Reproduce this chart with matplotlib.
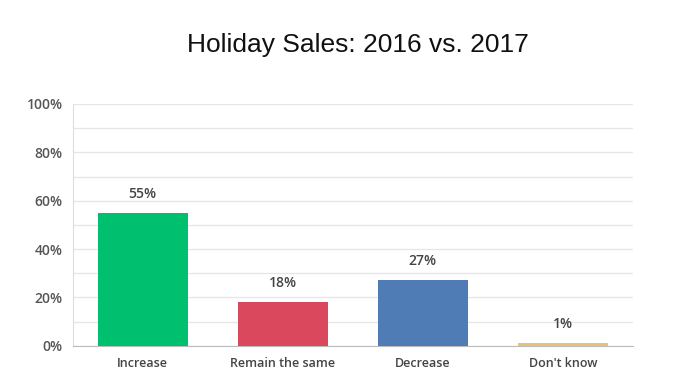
import matplotlib.pyplot as plt
import numpy as np

# data
categories = ['Increase', 'Remain the same', 'Decrease', "Don't know"]
values = [55, 18, 27, 1]
colors = ['#00BF6F', '#D9485C', '#4F7CB5', '#E3C27A']
yticks = [0, 20, 40, 60, 80, 100]

plt.rcParams['font.family'] = ['Open Sans', 'DejaVu Sans']

fig = plt.figure(figsize=(6.75, 3.88), dpi=100)
ax = fig.add_axes([0.1077, 0.109, 0.830, 0.623])

x = np.arange(len(categories))
bars = ax.bar(x, values, width=0.64, color=colors, zorder=3)

ax.set_xlim(-0.5, len(categories) - 0.5)
ax.set_ylim(0, 100)
ax.set_yticks(yticks)
ax.set_yticklabels([f'{v}%' for v in yticks])
ax.set_yticks(np.arange(0, 101, 10), minor=True)
ax.grid(axis='y', which='both', color='#e6e6e6', linewidth=0.9, zorder=0)
ax.tick_params(axis='y', which='both', length=0, pad=7, labelsize=10, labelcolor='#555555')
ax.set_xticks(x)
ax.set_xticklabels(categories, fontweight='semibold')
ax.tick_params(axis='x', length=0, pad=8, labelsize=9, labelcolor='#444444')
for lbl in ax.get_yticklabels():
    lbl.set_fontweight('semibold')

for s in ['top', 'right']:
    ax.spines[s].set_visible(False)
ax.spines['left'].set_color('#dddddd')
ax.spines['bottom'].set_color('#bbbbbb')

for bar, val in zip(bars, values):
    ax.text(bar.get_x() + bar.get_width() / 2, bar.get_height() + 5,
            f'{val}%', ha='center', va='bottom', fontsize=10,
            fontweight='semibold', color='#444444', zorder=4)

fig.text(0.53, 0.885, 'Holiday Sales: 2016 vs. 2017', ha='center', va='center',
         fontsize=19, family='Liberation Sans', color='#111111')

plt.savefig('out.png', dpi=100)
